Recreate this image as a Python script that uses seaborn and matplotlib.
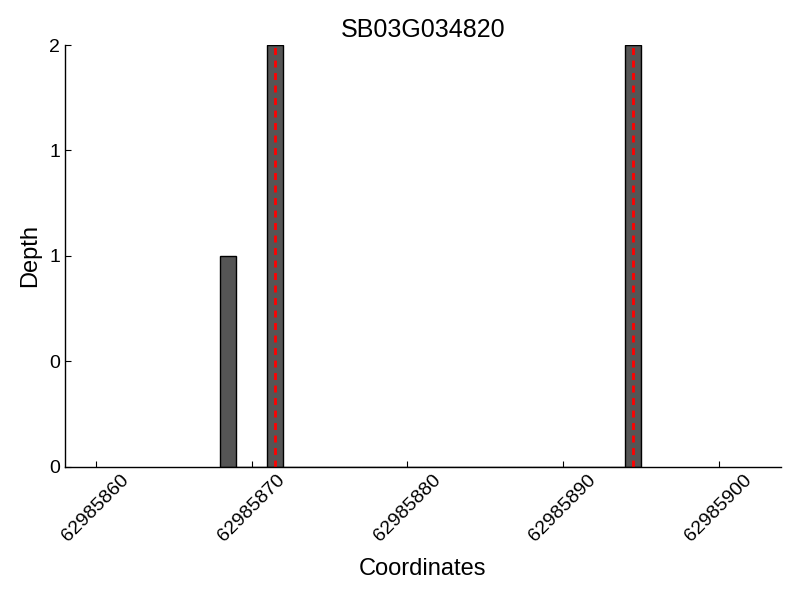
import numpy as np
import pandas as pd
import matplotlib
matplotlib.use("Agg")
import matplotlib.pyplot as plt
from matplotlib.ticker import FormatStrFormatter
import seaborn as sns

title = "SB03G034820"
positions = [62985868, 62985871, 62985894]
depths = [1, 2, 2]
marker_lines = [62985871.5, 62985894.5]
xticks = [62985860, 62985870, 62985880, 62985890, 62985900]
yticks = [0, 0.5, 1, 1.5, 2]

sns.set_style("ticks")
plt.rcParams['font.family'] = ['Liberation Sans', 'DejaVu Sans']
plt.rcParams['text.color'] = 'black'
plt.rcParams['axes.labelcolor'] = 'black'
plt.rcParams['xtick.color'] = 'black'
plt.rcParams['ytick.color'] = 'black'
plt.rcParams['axes.edgecolor'] = 'black'

df = pd.DataFrame({"pos": positions, "depth": depths})

fig = plt.figure(figsize=(8, 6), dpi=100)
ax = fig.add_axes([0.081, 0.222, 0.895, 0.703])

sns.histplot(data=df, x="pos", weights="depth", binwidth=1,
             binrange=(min(positions), max(positions) + 1),
             color="#555555", edgecolor="black", linewidth=1, alpha=1, ax=ax)

for xv in marker_lines:
    ax.axvline(xv, color="red", linestyle=(0, (2.5, 2)), linewidth=2)

ax.set_xlim(62985858, 62985904)
ax.set_ylim(0, 2)
ax.set_xticks(xticks)
ax.set_xticklabels([str(v) for v in xticks], rotation=45, ha="center", fontsize=14)
ax.set_yticks(yticks)
ax.yaxis.set_major_formatter(FormatStrFormatter('%d'))
ax.tick_params(axis='y', labelsize=14)
ax.tick_params(direction="in", length=4, width=0.8)
ax.set_xlabel("Coordinates", fontsize=17, labelpad=9)
ax.set_ylabel("Depth", fontsize=17, labelpad=6)
ax.set_title(title, fontsize=18)
for s in ["top", "right"]:
    ax.spines[s].set_visible(False)
ax.spines["left"].set_linewidth(1)
ax.spines["bottom"].set_linewidth(1)

fig.savefig("out.png", dpi=100)
